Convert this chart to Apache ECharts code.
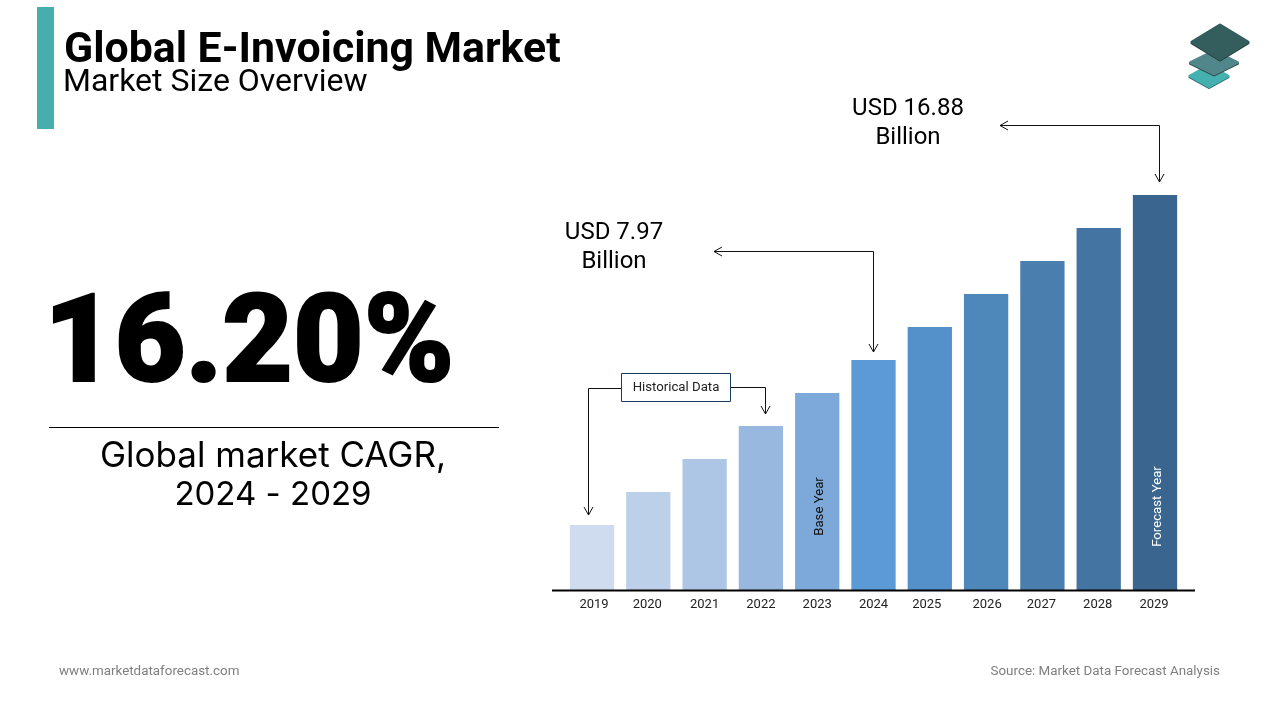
<!DOCTYPE html>
<html><head><meta charset="utf-8">
<style>html,body{margin:0;padding:0;background:#fff}#c{width:1280px;height:720px}</style>
<script src="https://cdn.jsdelivr.net/npm/echarts@6/dist/echarts.min.js"></script>
</head><body><div id="c"></div>
<script>
const years = ['2019','2020','2021','2022','2023','2024','2025','2026','2027','2028','2029'];
// relative bar heights as drawn in the picture (the bars are illustrative, not to the scale of the USD labels)
const barHeights = [65,98,131,164,197,230,263,296,329,362,395];
const barColors = ['#cfdcef','#bdd0ea','#adc6e5','#98b8df','#7da9da','#5b9ad6','#5490c9','#4e88bb','#4a7eaf','#4474a2','#3a658f'];
const labelNudge = [2,-1,0,0,0,0,-3,1,-1,-1,-1];
const font = 'Roboto';
const chart = echarts.init(document.getElementById('c'), null, {renderer:'canvas'});
function txt(t,x,y,size,opt){opt=opt||{};return {type:'text',x:x,y:y,silent:true,style:{text:t,font:(opt.weight||'400')+' '+size+'px '+(opt.family||font),fill:opt.fill||'#000',textAlign:opt.align||'left',textVerticalAlign:'middle',stroke:opt.stroke,lineWidth:opt.sw}};}
function line(pts,c){return {type:'polyline',silent:true,shape:{points:pts},style:{stroke:c||'#111',lineWidth:1,fill:null}};}
function diamond(cx,cy,hw,hh,c,z){return {type:'polygon',silent:true,z:z,shape:{points:[[cx-hw,cy],[cx,cy-hh],[cx+hw,cy],[cx,cy+hh]]},style:{fill:c,stroke:c,lineWidth:3,lineJoin:'round'}};}
chart.setOption({
  animation:false,
  grid:{left:563.85,width:619.3,top:100,height:490},
  xAxis:{type:'category',
    data:years.map((y,i)=>({value:y,textStyle:{padding:labelNudge[i]>0?[0,0,0,2*labelNudge[i]]:[0,-2*labelNudge[i],0,0]}})),
    axisLine:{show:false},axisTick:{show:false},
    axisLabel:{color:'#222',fontFamily:font,fontSize:13,margin:8,interval:0}},
  yAxis:{type:'value',min:0,max:490,show:false,splitLine:{show:false}},
  series:[{type:'bar',barWidth:44.3,
    data:barHeights.map((v,i)=>{
      const d={value:v,itemStyle:{color:barColors[i]}};
      if(years[i]==='2023')d.label={show:true,formatter:'Base Year',position:'inside',rotate:90,offset:[-15,2],color:'#111',fontFamily:font,fontSize:13.2};
      if(years[i]==='2029')d.label={show:true,formatter:'Forecast Year',position:'inside',rotate:90,offset:[-114,3],color:'#fff',fontFamily:font,fontSize:13.2};
      return d;})}],
  graphic:[
    {type:'rect',silent:true,shape:{x:37,y:7,width:17,height:122},style:{fill:'#47adad'}},
    txt('Global E-Invoicing Market',64,51.5,42.8,{weight:'700'}),
    txt('Market Size Overview',63,83,32),
    txt('16.20%',44,350,122,{weight:'900',stroke:'#000',sw:2}),
    {type:'line',silent:true,shape:{x1:49,y1:427.5,x2:499,y2:427.5},style:{stroke:'#000',lineWidth:1}},
    txt('Global market CAGR,',273,456,35,{align:'center',family:'Inter'}),
    txt('2024 - 2029',273,495,33,{align:'center',family:'Inter'}),
    txt('www.marketdataforecast.com',59,672,13.4,{fill:'#7f7f7f'}),
    txt('Source: Market Data Forecast Analysis',1220,672,13.4,{fill:'#7f7f7f',align:'right'}),
    txt('USD 16.88',908,108.5,24,{align:'center'}),
    txt('Billion',908,138,24,{align:'center'}),
    txt('USD 7.97',614,233,24,{align:'center'}),
    txt('Billion',614,262,24,{align:'center'}),
    {type:'line',silent:true,z:10,shape:{x1:552,y1:590.5,x2:1195,y2:590.5},style:{stroke:'#000',lineWidth:2}},
    line([[1000,125.5],[1159.5,125.5],[1159.5,182]]),
    line([[1008,121],[1000,125.5],[1008,130]]),
    line([[1155,174],[1159.5,182],[1164,174]]),
    line([[714,251.5],[873.5,251.5],[873.5,352]]),
    line([[722,247],[714,251.5],[722,256]]),
    line([[869,344],[873.5,352],[878,344]]),
    line([[621,388.5],[588.5,388.5],[588.5,515]]),
    line([[584,507],[588.5,515],[593,507]]),
    line([[731,387.5],[765.5,387.5],[765.5,414]]),
    line([[761,406],[765.5,414],[770,406]]),
    {type:'rect',silent:true,shape:{x:621.5,y:373.5,width:109,height:28},style:{fill:'#fff',stroke:'#1f3a5f',lineWidth:1}},
    txt('Historical Data',676,388,13.2,{align:'center',fill:'#222'}),
    diamond(1209,77,19,10.5,'#2f6f6f',1),
    diamond(1209,76,19,10.5,'#45b0b0',2),
    diamond(1214,63.5,23.5,11.5,'#2e4a4a',3),
    diamond(1214,62.5,23.5,11.5,'#51878a',4),
    diamond(1220,43,28,17,'#233f3f',5),
    diamond(1220,42,28,17,'#345e5e',6)
  ]
});
</script></body></html>
